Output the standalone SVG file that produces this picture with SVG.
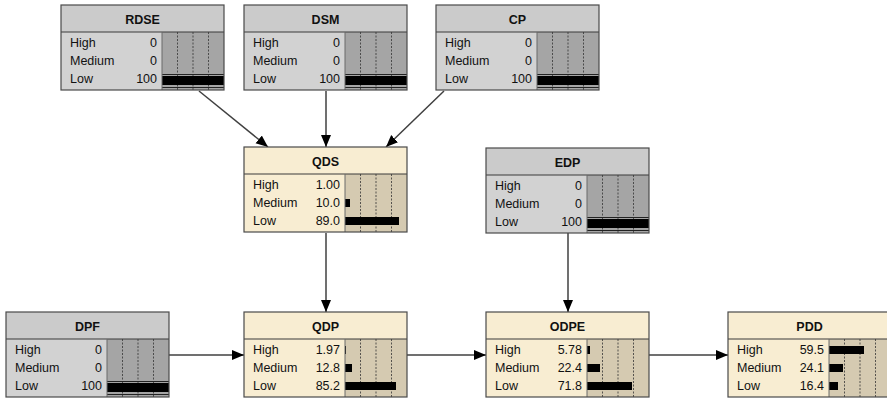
<svg xmlns="http://www.w3.org/2000/svg" width="887" height="400" viewBox="0 0 887 400">
<style>
text{font-family:"Liberation Sans",Arial,sans-serif;font-size:12.5px;fill:#111}
.h{font-weight:bold;text-anchor:middle}
.v{text-anchor:end}
.hg{fill:#cbcbcb}.bg{fill:#d2d2d2}.ag{fill:#a5a5a5}
.hy{fill:#f8edd2}.by{fill:#f8edd2}.ay{fill:#d5cab1}
.ol{fill:none;stroke:#4a4a4a;stroke-width:1.2}
.sep{stroke:#3a3a3a;stroke-width:1.2}
.bsep{stroke:#6a6a6a;stroke-width:1}
.dot{stroke:#333;stroke-width:0.8;stroke-dasharray:2 1.5}
.st{stroke:#222;stroke-width:1}
.bar{fill:#000}
.con line{stroke:#404040;stroke-width:1.5;marker-end:url(#ah)}
</style>
<defs>
<marker id="ah" markerUnits="userSpaceOnUse" markerWidth="13" markerHeight="11" refX="12" refY="5" orient="auto">
<path d="M0,0 L12,5 L0,10 z" fill="#000"/>
</marker>
<g id="gridg">
<line class="dot" x1="116.5" y1="27" x2="116.5" y2="85"/>
<line class="dot" x1="132" y1="27" x2="132" y2="85"/>
<line class="dot" x1="147.5" y1="27" x2="147.5" y2="85"/>
</g>
</defs>
<rect width="887" height="400" fill="#fff"/>

<g class="con">
<line x1="199" y1="91" x2="268" y2="147"/>
<line x1="326" y1="91" x2="326" y2="147"/>
<line x1="444" y1="91" x2="386" y2="147"/>
<line x1="326" y1="233" x2="326" y2="312"/>
<line x1="568" y1="233" x2="568" y2="312"/>
<line x1="168" y1="355" x2="244" y2="355"/>
<line x1="407" y1="355" x2="486" y2="355"/>
<line x1="647" y1="355" x2="728" y2="355"/>
</g>

<g id="RDSE" transform="translate(61,5)">
<rect class="hg" width="163" height="27"/><rect class="bg" y="27" width="101" height="58"/><rect class="ag" x="101" y="27" width="62" height="58"/>
<use href="#gridg"/>
<line class="st" x1="101" y1="69.5" x2="163" y2="69.5"/><rect class="bar" x="101" y="71" width="62" height="9"/><line class="st" x1="101" y1="82.5" x2="163" y2="82.5"/>
<line class="sep" x1="0" y1="27" x2="163" y2="27"/><line class="bsep" x1="101" y1="27" x2="101" y2="85"/>
<rect class="ol" width="163" height="85"/>
<text class="h" x="81.5" y="19">RDSE</text>
<text x="9" y="42">High</text><text class="v" x="96" y="42">0</text>
<text x="9" y="60">Medium</text><text class="v" x="96" y="60">0</text>
<text x="9" y="78">Low</text><text class="v" x="96" y="78">100</text>
</g>

<g id="DSM" transform="translate(244,5)">
<rect class="hg" width="163" height="27"/><rect class="bg" y="27" width="101" height="58"/><rect class="ag" x="101" y="27" width="62" height="58"/>
<use href="#gridg"/>
<line class="st" x1="101" y1="69.5" x2="163" y2="69.5"/><rect class="bar" x="101" y="71" width="62" height="9"/><line class="st" x1="101" y1="82.5" x2="163" y2="82.5"/>
<line class="sep" x1="0" y1="27" x2="163" y2="27"/><line class="bsep" x1="101" y1="27" x2="101" y2="85"/>
<rect class="ol" width="163" height="85"/>
<text class="h" x="81.5" y="19">DSM</text>
<text x="9" y="42">High</text><text class="v" x="96" y="42">0</text>
<text x="9" y="60">Medium</text><text class="v" x="96" y="60">0</text>
<text x="9" y="78">Low</text><text class="v" x="96" y="78">100</text>
</g>

<g id="CP" transform="translate(436,5)">
<rect class="hg" width="163" height="27"/><rect class="bg" y="27" width="101" height="58"/><rect class="ag" x="101" y="27" width="62" height="58"/>
<use href="#gridg"/>
<line class="st" x1="101" y1="69.5" x2="163" y2="69.5"/><rect class="bar" x="101" y="71" width="62" height="9"/><line class="st" x1="101" y1="82.5" x2="163" y2="82.5"/>
<line class="sep" x1="0" y1="27" x2="163" y2="27"/><line class="bsep" x1="101" y1="27" x2="101" y2="85"/>
<rect class="ol" width="163" height="85"/>
<text class="h" x="81.5" y="19">CP</text>
<text x="9" y="42">High</text><text class="v" x="96" y="42">0</text>
<text x="9" y="60">Medium</text><text class="v" x="96" y="60">0</text>
<text x="9" y="78">Low</text><text class="v" x="96" y="78">100</text>
</g>

<g id="QDS" transform="translate(244,147)">
<rect class="hy" width="163" height="27"/><rect class="by" y="27" width="101" height="58"/><rect class="ay" x="101" y="27" width="62" height="58"/>
<use href="#gridg"/>
<rect class="bar" x="101" y="52" width="5" height="8"/><rect class="bar" x="101" y="70" width="54" height="8"/>
<line class="sep" x1="0" y1="27" x2="163" y2="27"/><line class="bsep" x1="101" y1="27" x2="101" y2="85"/>
<rect class="ol" width="163" height="85"/>
<text class="h" x="81.5" y="19">QDS</text>
<text x="9" y="42">High</text><text class="v" x="96" y="42">1.00</text>
<text x="9" y="60">Medium</text><text class="v" x="96" y="60">10.0</text>
<text x="9" y="78">Low</text><text class="v" x="96" y="78">89.0</text>
</g>

<g id="EDP" transform="translate(486,148)">
<rect class="hg" width="163" height="27"/><rect class="bg" y="27" width="101" height="58"/><rect class="ag" x="101" y="27" width="62" height="58"/>
<use href="#gridg"/>
<line class="st" x1="101" y1="69.5" x2="163" y2="69.5"/><rect class="bar" x="101" y="71" width="62" height="9"/><line class="st" x1="101" y1="82.5" x2="163" y2="82.5"/>
<line class="sep" x1="0" y1="27" x2="163" y2="27"/><line class="bsep" x1="101" y1="27" x2="101" y2="85"/>
<rect class="ol" width="163" height="85"/>
<text class="h" x="81.5" y="19">EDP</text>
<text x="9" y="42">High</text><text class="v" x="96" y="42">0</text>
<text x="9" y="60">Medium</text><text class="v" x="96" y="60">0</text>
<text x="9" y="78">Low</text><text class="v" x="96" y="78">100</text>
</g>

<g id="DPF" transform="translate(6,312)">
<rect class="hg" width="163" height="27"/><rect class="bg" y="27" width="101" height="58"/><rect class="ag" x="101" y="27" width="62" height="58"/>
<use href="#gridg"/>
<line class="st" x1="101" y1="69.5" x2="163" y2="69.5"/><rect class="bar" x="101" y="71" width="62" height="9"/><line class="st" x1="101" y1="82.5" x2="163" y2="82.5"/>
<line class="sep" x1="0" y1="27" x2="163" y2="27"/><line class="bsep" x1="101" y1="27" x2="101" y2="85"/>
<rect class="ol" width="163" height="85"/>
<text class="h" x="81.5" y="19">DPF</text>
<text x="9" y="42">High</text><text class="v" x="96" y="42">0</text>
<text x="9" y="60">Medium</text><text class="v" x="96" y="60">0</text>
<text x="9" y="78">Low</text><text class="v" x="96" y="78">100</text>
</g>

<g id="QDP" transform="translate(244,312)">
<rect class="hy" width="163" height="27"/><rect class="by" y="27" width="101" height="58"/><rect class="ay" x="101" y="27" width="62" height="58"/>
<use href="#gridg"/>
<rect class="bar" x="101" y="34" width="1" height="8"/><rect class="bar" x="101" y="52" width="7" height="8"/><rect class="bar" x="101" y="70" width="51" height="8"/>
<line class="sep" x1="0" y1="27" x2="163" y2="27"/><line class="bsep" x1="101" y1="27" x2="101" y2="85"/>
<rect class="ol" width="163" height="85"/>
<text class="h" x="81.5" y="19">QDP</text>
<text x="9" y="42">High</text><text class="v" x="96" y="42">1.97</text>
<text x="9" y="60">Medium</text><text class="v" x="96" y="60">12.8</text>
<text x="9" y="78">Low</text><text class="v" x="96" y="78">85.2</text>
</g>

<g id="ODPE" transform="translate(486,312)">
<rect class="hy" width="163" height="27"/><rect class="by" y="27" width="101" height="58"/><rect class="ay" x="101" y="27" width="62" height="58"/>
<use href="#gridg"/>
<rect class="bar" x="101" y="34" width="3" height="8"/><rect class="bar" x="101" y="52" width="13" height="8"/><rect class="bar" x="101" y="70" width="45" height="8"/>
<line class="sep" x1="0" y1="27" x2="163" y2="27"/><line class="bsep" x1="101" y1="27" x2="101" y2="85"/>
<rect class="ol" width="163" height="85"/>
<text class="h" x="81.5" y="19">ODPE</text>
<text x="9" y="42">High</text><text class="v" x="96" y="42">5.78</text>
<text x="9" y="60">Medium</text><text class="v" x="96" y="60">22.4</text>
<text x="9" y="78">Low</text><text class="v" x="96" y="78">71.8</text>
</g>

<g id="PDD" transform="translate(728,312)">
<rect class="hy" width="163" height="27"/><rect class="by" y="27" width="101" height="58"/><rect class="ay" x="101" y="27" width="62" height="58"/>
<use href="#gridg"/>
<rect class="bar" x="101" y="34" width="35" height="8"/><rect class="bar" x="101" y="52" width="14" height="8"/><rect class="bar" x="101" y="70" width="9" height="8"/>
<line class="sep" x1="0" y1="27" x2="163" y2="27"/><line class="bsep" x1="101" y1="27" x2="101" y2="85"/>
<rect class="ol" width="163" height="85"/>
<text class="h" x="81.5" y="19">PDD</text>
<text x="9" y="42">High</text><text class="v" x="96" y="42">59.5</text>
<text x="9" y="60">Medium</text><text class="v" x="96" y="60">24.1</text>
<text x="9" y="78">Low</text><text class="v" x="96" y="78">16.4</text>
</g>
</svg>
